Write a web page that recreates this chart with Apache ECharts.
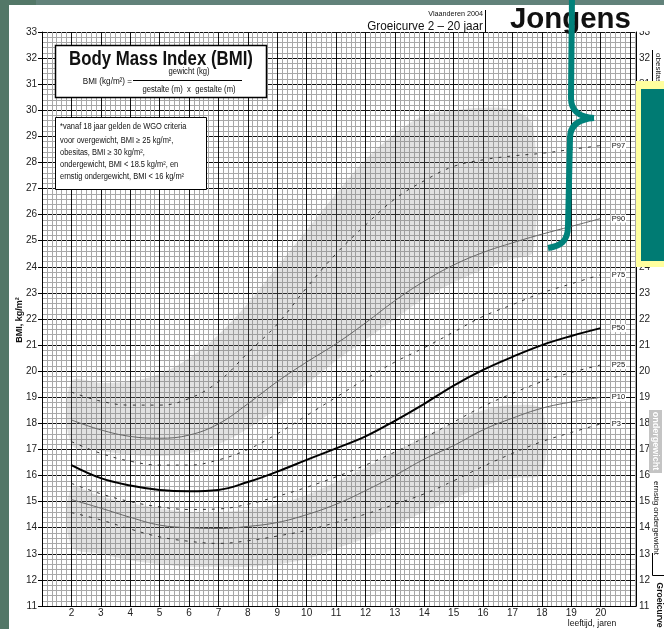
<!DOCTYPE html>
<html>
<head>
<meta charset="utf-8">
<script src="https://cdn.jsdelivr.net/npm/echarts@6/dist/echarts.min.js"></script>
<style>
html, body { margin: 0; padding: 0; background: #fff; }
#main { width: 664px; height: 629px; }
</style>
</head>
<body>
<div id="main"></div>
<script>
const ages = [2, 3, 4, 5, 6, 7, 8, 9, 10, 11, 12, 13, 14, 15, 16, 17, 18, 19, 20];
const p3  = [14.58, 14.3, 13.95, 13.65, 13.48, 13.4, 13.5, 13.68, 13.9, 14.2, 14.52, 14.9, 15.3, 15.8, 16.35, 16.85, 17.3, 17.65, 17.98];
const p10 = [15.08, 14.75, 14.4, 14.1, 14.0, 13.97, 14.05, 14.2, 14.5, 14.9, 15.42, 16.0, 16.63, 17.15, 17.75, 18.2, 18.58, 18.82, 19.0];
const p25 = [15.7, 15.3, 15.0, 14.8, 14.7, 14.72, 14.9, 15.2, 15.55, 15.95, 16.4, 16.9, 17.45, 18.05, 18.65, 19.15, 19.6, 19.95, 20.24];
const p50 = [16.4, 15.9, 15.62, 15.45, 15.4, 15.45, 15.75, 16.15, 16.6, 17.04, 17.5, 18.1, 18.75, 19.45, 20.05, 20.55, 21.0, 21.35, 21.65];
const p75 = [17.3, 16.85, 16.55, 16.4, 16.4, 16.6, 17.0, 17.6, 18.3, 19.0, 19.7, 20.35, 20.9, 21.5, 22.1, 22.55, 23.0, 23.35, 23.7];
const p90 = [18.13, 17.75, 17.5, 17.43, 17.55, 17.98, 18.75, 19.6, 20.35, 21.05, 21.85, 22.7, 23.45, 24.07, 24.55, 24.92, 25.25, 25.55, 25.85];
const p97 = [19.2, 18.85, 18.7, 18.7, 18.95, 19.6, 20.7, 21.8, 23.2, 24.5, 25.6, 26.6, 27.3, 27.85, 28.1, 28.25, 28.35, 28.5, 28.65];

// grijze zones (onder- en bovengrens)
const hiBandAges = [2, 3, 4, 5, 6, 7, 8, 9, 10, 11, 12, 13, 14, 15, 16, 17, 17.7];
const hiBandLow  = [17.2, 16.95, 16.8, 16.75, 16.85, 17.2, 17.8, 18.6, 19.5, 20.4, 21.2, 22.0, 22.8, 23.4, 23.9, 24.3, 24.6];
const hiBandHigh = [19.6, 19.55, 19.6, 19.9, 20.5, 21.4, 22.6, 24.0, 25.4, 26.8, 28.1, 29.1, 29.8, 30.0, 30.1, 30.0, 29.4];
const loBandAges = [2, 3, 4, 5, 6, 7, 8, 9, 10, 11, 12, 13, 14, 15, 16, 17, 18];
const loBandLow  = [13.3, 13.0, 12.75, 12.6, 12.5, 12.5, 12.5, 12.6, 12.8, 13.2, 13.6, 14.1, 14.6, 15.1, 15.6, 15.9, 16.1];
const loBandHigh = [15.5, 15.2, 14.95, 14.75, 14.6, 14.6, 14.7, 14.9, 15.25, 15.75, 16.3, 16.9, 17.5, 18.0, 18.5, 18.7, 18.5];

// aslabels
const ageTicks = [2, 3, 4, 5, 6, 7, 8, 9, 10, 11, 12, 13, 14, 15, 16, 17, 18, 19, 20];

const FONT = '"Liberation Sans", Arial, Helvetica, sans-serif';
const NARROW = '"Liberation Sans Narrow", "Arial Narrow", "Liberation Sans", Arial, sans-serif';

const myChart = echarts.init(document.getElementById('main'));

function curve(name, vals, lineStyle) {
  return {
    name: name,
    type: 'line',
    data: ages.map((a, i) => [a, vals[i]]),
    smooth: 0.4,
    symbol: 'none',
    silent: true,
    z: 5,
    lineStyle: lineStyle,
    endLabel: {
      show: true,
      formatter: '{a}',
      distance: 10,
      fontSize: 7.5,
      fontFamily: FONT,
      color: '#111',
      backgroundColor: '#fff',
      padding: [0, 1]
    }
  };
}

// grijze zone als veelhoek via de assen van de grafiek
function band(xs, low, high) {
  return {
    type: 'custom', silent: true, z: 1, clip: true,
    data: [[xs[0], low[0]]],
    renderItem: function (params, api) {
      const pts = [];
      for (let i = 0; i < xs.length; i++) pts.push(api.coord([xs[i], low[i]]));
      for (let i = xs.length - 1; i >= 0; i--) pts.push(api.coord([xs[i], high[i]]));
      return {
        type: 'polygon',
        shape: { points: pts, smooth: 0.35 },
        style: { fill: 'rgba(128,128,128,0.2)', shadowBlur: 10, shadowColor: 'rgba(128,128,128,0.25)' }
      };
    }
  };
}

const dashed = { color: '#333', width: 1, type: [3, 6] };

function txt(x, y, text, size, o) {
  o = o || {};
  return {
    type: 'text', z: 110, x: x, y: y, rotation: o.rot || 0, scaleX: o.sx || 1,
    style: {
      text: text,
      font: (o.bold ? 'bold ' : '') + size + 'px ' + (o.font || FONT),
      fill: o.color || '#111',
      align: o.align || 'left', textAlign: o.align || 'left',
      verticalAlign: 'middle', textVerticalAlign: 'middle'
    }
  };
}

const braceStyle = { stroke: '#00817a', lineWidth: 6, fill: null };

const notes = [
  '*vanaf 18 jaar gelden de WGO criteria',
  'voor overgewicht, BMI \u2265 25 kg/m\u00b2,',
  'obesitas, BMI \u2265 30 kg/m\u00b2,',
  'ondergewicht, BMI < 18.5 kg/m\u00b2, en',
  'ernstig ondergewicht, BMI < 16 kg/m\u00b2'
];
const noteY = [127, 141, 153, 165, 177];

const graphics = [
  // kader van de pagina
  { type: 'rect', z: 120, shape: { x: 0, y: 0, width: 664, height: 5 }, style: { fill: '#62827a' } },
  { type: 'rect', z: 121, shape: { x: 0, y: 0, width: 36, height: 5 }, style: { fill: '#537767' } },
  { type: 'rect', z: 121, shape: { x: 0, y: 0, width: 9, height: 629 }, style: { fill: '#537767' } },

  // titel
  { type: 'rect', z: 100, shape: { x: 55.5, y: 45.5, width: 211, height: 52 }, style: { fill: '#fff', stroke: '#000', lineWidth: 1.5 } },
  txt(161, 59, 'Body Mass Index (BMI)', 21, { bold: true, align: 'center', sx: 0.8 }),
  txt(132, 82, 'BMI (kg/m\u00b2) =', 9, { align: 'right', sx: 0.9 }),
  txt(189, 72, 'gewicht (kg)', 8.5, { align: 'center', sx: 0.9 }),
  { type: 'line', z: 110, shape: { x1: 133, y1: 80.5, x2: 242, y2: 80.5 }, style: { stroke: '#000', lineWidth: 1 } },
  txt(189, 90, 'gestalte (m)  x  gestalte (m)', 8.5, { align: 'center', sx: 0.9 }),

  // criteria
  { type: 'rect', z: 100, shape: { x: 55.5, y: 117.5, width: 151, height: 72 }, style: { fill: '#fff', stroke: '#000', lineWidth: 1 } }
].concat(notes.map((t, i) => txt(60, noteY[i], t, 8.5, { sx: 0.88 }))).concat([

  // kop
  { type: 'rect', z: 100, shape: { x: 300, y: 5, width: 364, height: 26 }, style: { fill: '#fff' } },
  txt(483, 14, 'Vlaanderen 2004', 8, { align: 'right', sx: 0.9 }),
  txt(483, 26, 'Groeicurve 2 \u2013 20 jaar', 13, { align: 'right', sx: 0.9 }),
  { type: 'line', z: 110, shape: { x1: 485.5, y1: 10, x2: 485.5, y2: 32 }, style: { stroke: '#000', lineWidth: 1 } },
  txt(510, 20, 'Jongens', 30, { bold: true, sx: 0.98 }),

  // astitels
  txt(20, 320, 'BMI, kg/m\u00b2', 9, { rot: Math.PI / 2, align: 'center', bold: true }),
  txt(592, 624, 'leeftijd, jaren', 9, { align: 'center', sx: 0.95 }),

  // rechts
  { type: 'line', z: 110, shape: { x1: 652.5, y1: 50, x2: 652.5, y2: 82 }, style: { stroke: '#000', lineWidth: 1 } },
  txt(658, 68, 'obesitas', 8, { rot: -Math.PI / 2, align: 'center' }),
  { type: 'rect', z: 112, shape: { x: 636, y: 81, width: 28, height: 186 }, style: { fill: '#ffff9e' } },
  { type: 'rect', z: 113, shape: { x: 641, y: 89, width: 23, height: 172 }, style: { fill: '#007b73' } },
  txt(658, 114, 'S', 22, { bold: true, color: '#fff' }),
  txt(658, 150, 'o', 22, { bold: true, color: '#fff' }),
  txt(658, 186, 'b', 22, { bold: true, color: '#fff' }),
  txt(658, 226, 'V', 22, { bold: true, color: '#fff' }),
  { type: 'rect', z: 110, shape: { x: 649, y: 410, width: 13, height: 63 }, style: { fill: '#c4c4c4' } },
  txt(655.5, 441, 'ondergewicht', 9, { rot: -Math.PI / 2, align: 'center', bold: true, color: '#fff' }),
  txt(656, 518, 'ernstig ondergewicht', 8, { rot: -Math.PI / 2, align: 'center' }),
  { type: 'polyline', z: 110, shape: { points: [[652.5, 553], [652.5, 575.5], [664, 575.5]] }, style: { stroke: '#000', lineWidth: 1, fill: null } },
  txt(659, 605, 'Groeicurve', 8.5, { rot: -Math.PI / 2, align: 'center', bold: true }),

  // accolade
  { type: 'line', z: 130, shape: { x1: 572, y1: -4, x2: 571, y2: 98 }, style: braceStyle },
  { type: 'bezierCurve', z: 130, shape: { x1: 571, y1: 98, cpx1: 571, cpy1: 112, cpx2: 580, cpy2: 117, x2: 594, y2: 118 }, style: braceStyle },
  { type: 'bezierCurve', z: 130, shape: { x1: 594, y1: 118, cpx1: 580, cpy1: 119, cpx2: 570, cpy2: 124, x2: 570, y2: 138 }, style: braceStyle },
  { type: 'line', z: 130, shape: { x1: 570, y1: 138, x2: 568, y2: 226 }, style: braceStyle },
  { type: 'bezierCurve', z: 130, shape: { x1: 568, y1: 226, cpx1: 568, cpy1: 242, cpx2: 560, cpy2: 246, x2: 548, y2: 248 }, style: braceStyle }
]);

const option = {
  animation: false,
  backgroundColor: '#fff',
  grid: { left: 42, right: 28, top: 32, bottom: 23, outerBoundsMode: 'none' },
  xAxis: {
    type: 'value', min: 1, max: 21.2, interval: 1,
    axisLine: { show: true, onZero: false, lineStyle: { color: '#000', width: 1 } },
    axisTick: { show: false },
    axisLabel: {
      formatter: v => (ageTicks.indexOf(v) >= 0 ? String(v) : ''),
      fontSize: 10, color: '#222', margin: 2, fontFamily: NARROW
    },
    splitLine: { show: true, lineStyle: { color: '#111', width: 1 } },
    minorTick: { show: false, splitNumber: 6 },
    minorSplitLine: { show: true, lineStyle: { color: '#a8a8a8', width: 1 } }
  },
  yAxis: [
    {
      type: 'value', min: 11, max: 33, interval: 1, position: 'left',
      axisLine: { show: true, onZero: false, lineStyle: { color: '#000', width: 1 } },
      axisTick: { show: true, length: 4, lineStyle: { color: '#000' } },
      axisLabel: { fontSize: 10, color: '#222', margin: 5, fontFamily: NARROW },
      splitLine: { show: true, lineStyle: { color: '#111', width: 1 } },
      minorTick: { show: false, splitNumber: 5 },
      minorSplitLine: { show: true, lineStyle: { color: '#a8a8a8', width: 1 } }
    },
    {
      type: 'value', min: 11, max: 33, interval: 1, position: 'right',
      axisLine: { show: true, onZero: false, lineStyle: { color: '#000', width: 1 } },
      axisTick: { show: false },
      axisLabel: { fontSize: 10, color: '#222', margin: 3, fontFamily: NARROW },
      splitLine: { show: false }
    }
  ],
  series: [
    band(hiBandAges, hiBandLow, hiBandHigh),
    band(loBandAges, loBandLow, loBandHigh),
    curve('P97', p97, dashed),
    curve('P90', p90, { color: '#666', width: 1 }),
    curve('P75', p75, dashed),
    curve('P50', p50, { color: '#000', width: 2 }),
    curve('P25', p25, dashed),
    curve('P10', p10, { color: '#666', width: 1 }),
    curve('P3', p3, dashed)
  ],
  graphic: graphics
};

myChart.setOption(option);
</script>
</body>
</html>
